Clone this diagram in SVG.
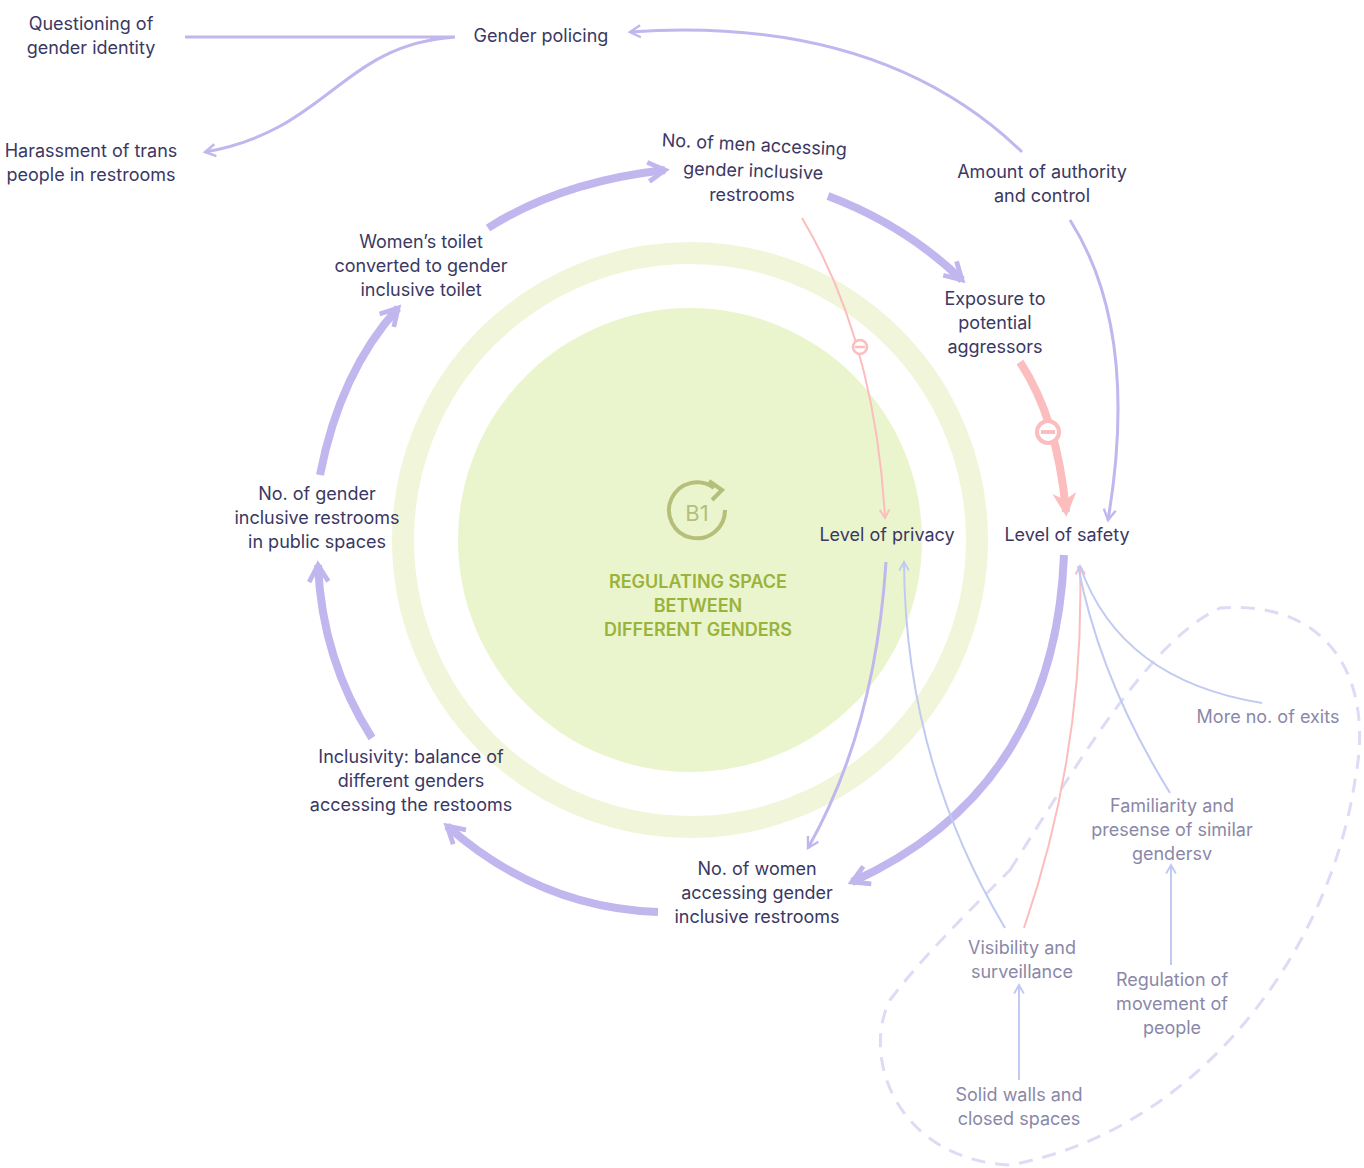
<svg xmlns="http://www.w3.org/2000/svg" width="1364" height="1168" viewBox="0 0 1364 1168">
<style>
text{font-family:"Inter","Liberation Sans",sans-serif;font-size:18px;fill:#3b3863;text-anchor:middle}
.g{fill:#8a88a8}
.t{fill:#9ab33a;font-weight:600}
.m{fill:none;stroke:#c2b6ef;stroke-width:8}
.p{fill:none;stroke:#fbbdbd}
.l{fill:none;stroke:#c2b6ef;stroke-width:3}
.b{fill:none;stroke:#c0caf2;stroke-width:2}
</style>
<defs>
<marker id="a" viewBox="0 0 10 10" refX="8" refY="5" markerWidth="3" markerHeight="3" orient="auto"><path d="M1,1L8,5L1,9" fill="none" stroke="#c2b6ef" stroke-width="2"/></marker>
<marker id="a2" viewBox="0 0 10 10" refX="8" refY="5" markerWidth="5" markerHeight="5" orient="auto"><path d="M1,1L8,5L1,9" fill="none" stroke="#c2b6ef" stroke-width="1.6"/></marker>
<marker id="ap" viewBox="0 0 10 10" refX="8" refY="5" markerWidth="3" markerHeight="3" orient="auto"><path d="M0,0L10,5L0,10L3,5z" fill="#fbbdbd"/></marker>
<marker id="ap2" viewBox="0 0 10 10" refX="8" refY="5" markerWidth="6" markerHeight="6" orient="auto"><path d="M1,1L8,5L1,9" fill="none" stroke="#fbbdbd" stroke-width="1.6"/></marker>
<marker id="ab" viewBox="0 0 10 10" refX="8" refY="5" markerWidth="6" markerHeight="6" orient="auto"><path d="M1,1L8,5L1,9" fill="none" stroke="#c0caf2" stroke-width="1.6"/></marker>
</defs>
<g id="background">
<circle cx="690" cy="540" r="287" fill="none" stroke="#f1f6da" stroke-width="22"/>
<circle cx="690" cy="540" r="232" fill="#ebf5cd"/>
<path d="M1010,870C1080,760 1150,640 1220,608C1330,600 1375,680 1355,780C1330,950 1200,1130 1010,1165C900,1160 860,1060 890,1000C920,960 960,920 1010,870Z" fill="none" stroke="#dcdcf6" stroke-width="3" stroke-dasharray="14 10"/>
</g>
<g id="connectors">
<path class="m" d="M488,228Q560,182 665,170" marker-end="url(#a)"/>
<path class="m" d="M828,196Q905,225 962,280" marker-end="url(#a)"/>
<path class="p" stroke-width="8" d="M1020,362Q1058,420 1066,512" marker-end="url(#ap)"/>
<path class="m" d="M1064,555Q1055,790 852,882" marker-end="url(#a)"/>
<path class="m" d="M658,912Q540,908 447,826" marker-end="url(#a)"/>
<path class="m" d="M372,738Q322,660 318,565" marker-end="url(#a)"/>
<path class="m" d="M320,475Q340,372 398,308" marker-end="url(#a)"/>
<path class="p" stroke-width="2" d="M802,218Q875,340 885,518" marker-end="url(#ap2)"/>
<path class="l" d="M886,562Q875,730 808,848" marker-end="url(#a2)"/>
<path class="l" d="M1070,220Q1140,330 1108,520" marker-end="url(#a2)"/>
<path class="l" d="M1022,152Q880,15 630,32" marker-end="url(#a2)"/>
<path class="l" d="M455,37L185,37M455,37C340,45 330,130 205,152" marker-end="url(#a2)"/>
<path class="b" d="M1005,928Q905,760 904,562" marker-end="url(#ab)"/>
<path class="p" stroke-width="2" d="M1024,928Q1085,750 1080,566" marker-end="url(#ap2)"/>
<path class="b" d="M1170,793Q1100,680 1078,566"/>
<path class="b" d="M1262,703Q1120,680 1080,566"/>
<path class="b" d="M1171,965L1171,865" marker-end="url(#ab)"/>
<path class="b" d="M1019,1080L1019,985" marker-end="url(#ab)"/>
<circle cx="860" cy="347" r="7" fill="#fff" stroke="#fbbdbd" stroke-width="2.5"/><path d="M855,347h10" stroke="#fbbdbd" stroke-width="2.5"/>
<circle cx="1048" cy="432" r="11" fill="#fff" stroke="#fbbdbd" stroke-width="4"/><path d="M1041,432h14" stroke="#fbbdbd" stroke-width="4"/>
</g>
<g id="center">
<path d="M714,488A28,28 0 1 0 725,510" fill="none" stroke="#b5bf7a" stroke-width="4"/>
<path d="M709,481L722,490L712,500" fill="none" stroke="#b5bf7a" stroke-width="4"/>
<text x="697" y="521" style="font-size:22px;fill:#b5bf7a">B1</text>
<text class="t" x="698" y="588">REGULATING SPACE</text>
<text class="t" x="698" y="612">BETWEEN</text>
<text class="t" x="698" y="636">DIFFERENT GENDERS</text>
</g>
<g id="n1"><text x="91" y="30">Questioning of</text><text x="91" y="54">gender identity</text></g>
<g id="n2"><text x="541" y="42">Gender policing</text></g>
<g id="n3"><text x="91" y="157">Harassment of trans</text><text x="91" y="181">people in restrooms</text></g>
<g id="n4"><text x="754" y="151" transform="rotate(3 754 151)">No. of men accessing</text><text x="753" y="177" transform="rotate(2 753 177)">gender inclusive</text><text x="752" y="201">restrooms</text></g>
<g id="n5"><text x="1042" y="178">Amount of authority</text><text x="1042" y="202">and control</text></g>
<g id="n6"><text x="421" y="248">Women’s toilet</text><text x="421" y="272">converted to gender</text><text x="421" y="296">inclusive toilet</text></g>
<g id="n7"><text x="995" y="305">Exposure to</text><text x="995" y="329">potential</text><text x="995" y="353">aggressors</text></g>
<g id="n8"><text x="317" y="500">No. of gender</text><text x="317" y="524">inclusive restrooms</text><text x="317" y="548">in public spaces</text></g>
<g id="n9"><text x="887" y="541">Level of privacy</text></g>
<g id="n10"><text x="1067" y="541">Level of safety</text></g>
<g id="n11"><text class="g" x="1268" y="723">More no. of exits</text></g>
<g id="n12"><text x="411" y="763">Inclusivity: balance of</text><text x="411" y="787">different genders</text><text x="411" y="811">accessing the restooms</text></g>
<g id="n13"><text class="g" x="1172" y="812">Familiarity and</text><text class="g" x="1172" y="836">presense of similar</text><text class="g" x="1172" y="860">gendersv</text></g>
<g id="n14"><text x="757" y="875">No. of women</text><text x="757" y="899">accessing gender</text><text x="757" y="923">inclusive restrooms</text></g>
<g id="n15"><text class="g" x="1022" y="954">Visibility and</text><text class="g" x="1022" y="978">surveillance</text></g>
<g id="n16"><text class="g" x="1172" y="986">Regulation of</text><text class="g" x="1172" y="1010">movement of</text><text class="g" x="1172" y="1034">people</text></g>
<g id="n17"><text class="g" x="1019" y="1101">Solid walls and</text><text class="g" x="1019" y="1125">closed spaces</text></g>
</svg>
